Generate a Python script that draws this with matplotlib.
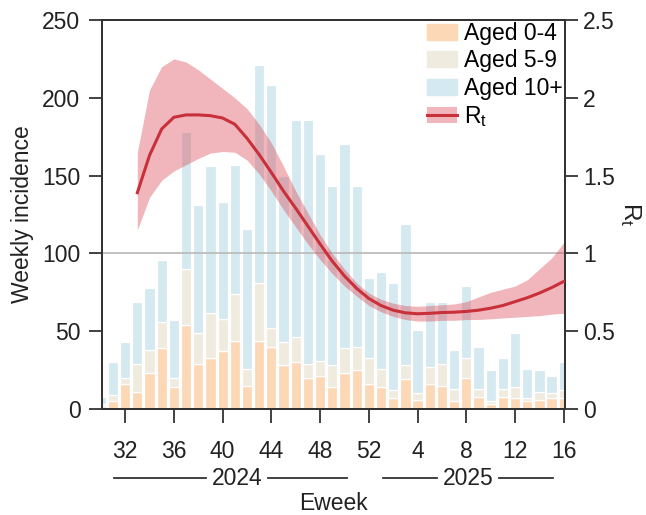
import matplotlib
matplotlib.use("Agg")
import matplotlib.pyplot as plt
from matplotlib.patches import Patch
from matplotlib.lines import Line2D
import numpy as np

plt.rcParams['font.family'] = ['Liberation Sans', 'DejaVu Sans']
plt.rcParams['mathtext.fontset'] = 'custom'
plt.rcParams['mathtext.rm'] = 'Liberation Sans'
plt.rcParams['mathtext.it'] = 'Liberation Sans'

# ---- data ----
weeks_2024 = [30, 31, 32, 33, 34, 35, 36, 37, 38, 39, 40, 41, 42, 43, 44, 45, 46, 47, 48, 49, 50, 51, 52]
weeks_2025 = [1, 2, 3, 4, 5, 6, 7, 8, 9, 10, 11, 12, 13, 14, 15, 16]

aged_0_4 = [2, 5, 16, 11, 23, 39, 14, 54, 29, 33, 37, 44, 15, 44, 40, 28, 30, 20, 21, 14, 23, 25, 16,
            14, 7, 19, 6, 16, 15, 5, 20, 8, 3, 8, 7, 5, 6, 7, 7]
aged_5_9 = [1, 4, 4, 18, 15, 17, 6, 36, 20, 29, 21, 30, 11, 37, 12, 15, 16, 9, 10, 14, 16, 15, 17,
            12, 5, 9, 4, 11, 14, 8, 13, 5, 2, 5, 7, 2, 5, 3, 5]
aged_10p = [5, 21, 23, 40, 40, 40, 37, 88, 82, 94, 75, 83, 90, 140, 156, 107, 140, 157, 133, 115, 131, 103, 51,
            62, 69, 91, 41, 42, 40, 25, 46, 27, 20, 20, 35, 19, 14, 11, 18]

# Rt from 2024 week 33 to 2025 week 16
rt_mid = [1.39, 1.63, 1.80, 1.875, 1.89, 1.89, 1.885, 1.87, 1.83, 1.74, 1.635, 1.52, 1.40, 1.29, 1.175,
          1.06, 0.95, 0.855, 0.775, 0.71,
          0.665, 0.635, 0.618, 0.612, 0.615, 0.62, 0.622, 0.627, 0.635, 0.648, 0.665, 0.69, 0.715, 0.745, 0.78, 0.82]
rt_low = [1.15, 1.36, 1.47, 1.53, 1.57, 1.61, 1.645, 1.655, 1.65, 1.60, 1.51, 1.40, 1.28, 1.17, 1.06,
          0.96, 0.87, 0.79, 0.725, 0.665,
          0.625, 0.595, 0.575, 0.565, 0.565, 0.57, 0.57, 0.575, 0.575, 0.58, 0.585, 0.59, 0.595, 0.60, 0.61, 0.615]
rt_up = [1.65, 2.05, 2.20, 2.25, 2.23, 2.18, 2.12, 2.06, 2.00, 1.93, 1.83, 1.71, 1.56, 1.40, 1.26,
         1.12, 1.00, 0.90, 0.81, 0.745,
         0.705, 0.68, 0.665, 0.66, 0.665, 0.67, 0.675, 0.69, 0.72, 0.75, 0.77, 0.79, 0.83, 0.90, 0.97, 1.07]

tick_labels = ["32", "36", "40", "44", "48", "52", "4", "8", "12", "16"]

# ---- positions (sequential week index) ----
x_all = np.array(weeks_2024 + [52 + w for w in weeks_2025], dtype=float)
x_rt = x_all[3:]
tick_pos = [32, 36, 40, 44, 48, 52, 56, 60, 64, 68]

c_or = '#FCD8B6'
c_be = '#EFEBDF'
c_bl = '#D4E9F0'
c_red = '#C8303A'
c_band = '#DA4A55'
txt = '#222222'
FS = 16.5

fig = plt.figure(figsize=(6.46, 5.15), dpi=100)
ax = fig.add_axes([102/646, 1-409/515, (565-102)/646, (409-20)/515])

a = np.array(aged_0_4, float)
b = np.array(aged_5_9, float)
c = np.array(aged_10p, float)
w = 0.84
ax.bar(x_all, a, width=w, color=c_or, edgecolor='white', linewidth=0.9, zorder=2)
ax.bar(x_all, b, width=w, bottom=a, color=c_be, edgecolor='white', linewidth=0.9, zorder=2)
ax.bar(x_all, c, width=w, bottom=a+b, color=c_bl, edgecolor='white', linewidth=0.9, zorder=2)

ax.set_xlim(30.1, 68.1)
ax.set_ylim(0, 250)
ax.set_yticks([0, 50, 100, 150, 200, 250])
ax.set_xticks(tick_pos)
ax.set_xticklabels(tick_labels)

ax2 = ax.twinx()
ax2.set_ylim(0, 2.5)
ax2.set_yticks([0, 0.5, 1, 1.5, 2, 2.5])
ax2.set_yticklabels(["0", "0.5", "1", "1.5", "2", "2.5"])
ax2.axhline(1, color='#BDBDBD', lw=1.3, zorder=1)
ax2.fill_between(x_rt, rt_low, rt_up, color=c_band, alpha=0.4, lw=0, zorder=2)
ax2.plot(x_rt, rt_mid, color=c_red, lw=2.2, zorder=3)

for axx in (ax, ax2):
    for s in axx.spines.values():
        s.set_color('#333333')
        s.set_linewidth(1.4)
    axx.tick_params(colors='#333333', labelcolor=txt, labelsize=FS, width=1.3)
ax.tick_params(axis='y', length=9.5, pad=6)
ax.tick_params(axis='x', length=10, pad=12)
ax2.tick_params(axis='y', length=9, pad=4)

ax.set_ylabel("Weekly incidence", fontsize=FS, color=txt, labelpad=6)
ax2.set_ylabel(r"$\mathregular{R_t}$", fontsize=FS+1, color=txt, rotation=270, labelpad=20)

# year annotations
trans = ax.get_xaxis_transform()
yl = -0.178
for (x0, x1), (x2, x3), xc, lab in [((31.1, 38.6), (43.7, 50.2), 41.2, "2024"),
                                    ((53.2, 57.6), (62.7, 67.1), 60.2, "2025")]:
    ax.plot([x0, x1], [yl, yl], transform=trans, color='#333333', lw=1.3, clip_on=False)
    ax.plot([x2, x3], [yl, yl], transform=trans, color='#333333', lw=1.3, clip_on=False)
    ax.text(xc, yl, lab, transform=trans, ha='center', va='center', fontsize=FS, color=txt)
ax.text(0.5, -0.243, "Eweek", transform=ax.transAxes, ha='center', va='center', fontsize=FS, color=txt)

handles = [Patch(color=c_or), Patch(color=c_be), Patch(color=c_bl),
           (Patch(color=c_band, alpha=0.4, lw=0), Line2D([], [], color=c_red, lw=2.2))]
labels = ["Aged 0-4", "Aged 5-9", "Aged 10+", r"$\mathregular{R_t}$"]
ax2.legend(handles, labels, loc='upper right', frameon=False, fontsize=FS,
           handlelength=1.3, handleheight=0.7, handletextpad=0.3, labelspacing=0.18,
           borderaxespad=0.0, borderpad=0.1, bbox_to_anchor=(1.0, 1.0))

fig.savefig("out.png", dpi=100)
